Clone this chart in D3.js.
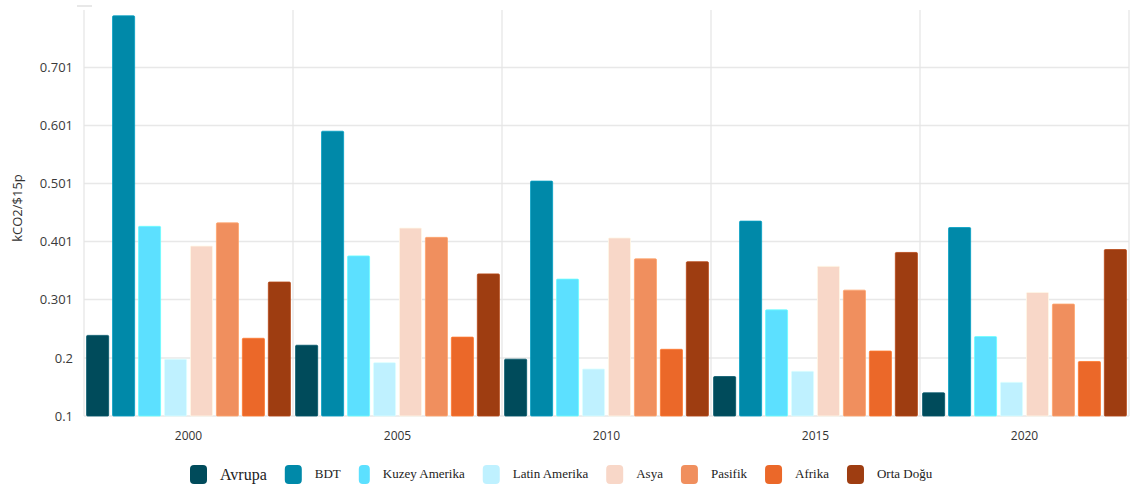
<!DOCTYPE html>
<html>
<head>
<meta charset="utf-8">
<script src="https://cdn.jsdelivr.net/npm/d3@7"></script>
<style>
  body { margin: 0; background: #fff; }
  svg { display: block; }
</style>
</head>
<body>
<div id="chart"></div>
<script>
var years = ["2000", "2005", "2010", "2015", "2020"];
var regions = ["Avrupa", "BDT", "Kuzey Amerika", "Latin Amerika", "Asya", "Pasifik", "Afrika", "Orta Doğu"];
var colors = ["#004b5b", "#0089a9", "#5ce0ff", "#bff1ff", "#f8d7c8", "#f08f5e", "#eb6829", "#9e3d11"];

// one array per region, values in order of years
var avrupa   = [0.239, 0.222, 0.198, 0.168, 0.140];
var bdt      = [0.790, 0.591, 0.505, 0.436, 0.425];
var kuzey    = [0.427, 0.376, 0.336, 0.283, 0.237];
var latin    = [0.198, 0.192, 0.181, 0.177, 0.158];
var asya     = [0.393, 0.424, 0.407, 0.358, 0.313];
var pasifik  = [0.433, 0.408, 0.371, 0.317, 0.293];
var afrika   = [0.234, 0.236, 0.215, 0.212, 0.194];
var ortaDogu = [0.331, 0.345, 0.366, 0.382, 0.387];

var yTicks = [0.1, 0.2, 0.301, 0.401, 0.501, 0.601, 0.701];
var yTickLabels = ["0.1", "0.2", "0.301", "0.401", "0.501", "0.601", "0.701"];
var yTitle = "kCO2/$15p";

var series = [avrupa, bdt, kuzey, latin, asya, pasifik, afrika, ortaDogu];

var width = 1138, height = 488,
    margin = {top: 10, right: 9, bottom: 72, left: 84};

var svg = d3.select("#chart").append("svg")
    .attr("width", width)
    .attr("height", height);

var x0 = d3.scaleBand().domain(years).range([margin.left, width - margin.right]).padding(0),
    x1 = d3.scaleBand().domain(regions).range([0, x0.bandwidth()]).paddingInner(0.15).paddingOuter(0.1),
    y = d3.scaleLinear().domain([0.1, 0.8]).range([height - margin.bottom, margin.top]);

// grid
var grid = svg.append("g").attr("class", "grid");
grid.selectAll("line.h")
  .data(yTicks)
  .enter().append("line")
    .attr("class", "h")
    .attr("x1", margin.left).attr("x2", width - margin.right)
    .attr("y1", function(d) { return y(d); })
    .attr("y2", function(d) { return y(d); })
    .attr("stroke", "#e8e8e8").attr("stroke-width", 1.5);

var bounds = years.map(function(d) { return x0(d); }).concat([x0(years[years.length - 1]) + x0.bandwidth()]);
grid.selectAll("line.v")
  .data(bounds)
  .enter().append("line")
    .attr("class", "v")
    .attr("x1", function(d) { return d; }).attr("x2", function(d) { return d; })
    .attr("y1", margin.top).attr("y2", y(0.1))
    .attr("stroke", "#e4e4e4").attr("stroke-width", 1.2);

svg.append("line")
  .attr("x1", margin.left - 7).attr("x2", margin.left + 8)
  .attr("y1", 6).attr("y2", 6)
  .attr("stroke", "#e0e0e0").attr("stroke-width", 1.5);

// bars
var group = svg.selectAll(".year")
  .data(years)
  .enter().append("g")
    .attr("class", "year")
    .attr("transform", function(d) { return "translate(" + x0(d) + ",0)"; });

group.selectAll("rect")
  .data(function(d, i) {
    return regions.map(function(r, j) { return {region: r, value: series[j][i], color: colors[j]}; });
  })
  .enter().append("rect")
    .attr("x", function(d) { return x1(d.region); })
    .attr("y", function(d) { return y(d.value); })
    .attr("width", x1.bandwidth())
    .attr("height", function(d) { return y(0.1) - y(d.value); })
    .attr("rx", 1)
    .attr("fill", function(d) { return d.color; })
    .attr("stroke", function(d) { return d3.color(d.color).brighter(0.4); })
    .attr("stroke-width", 0.8);

// y axis labels
var yAxis = d3.axisLeft(y)
  .tickValues(yTicks)
  .tickFormat(function(d, i) { return yTickLabels[i]; })
  .tickSize(0)
  .tickPadding(11);

svg.append("g")
    .attr("class", "axis axis--y")
    .attr("transform", "translate(" + margin.left + ",0)")
    .call(yAxis)
    .call(function(g) { g.select(".domain").remove(); })
    .selectAll("text")
    .style("font-family", "'Open Sans', sans-serif")
    .style("font-size", "13px")
    .attr("fill", "#3a3a3a");

svg.append("text")
    .attr("transform", "translate(22," + 208 + ") rotate(-90)")
    .attr("text-anchor", "middle")
    .style("font-family", "'Open Sans', sans-serif")
    .style("font-size", "13px")
    .attr("fill", "#333")
    .text(yTitle);

// x axis labels
var xAxis = d3.axisBottom(x0).tickSize(0).tickPadding(15);
svg.append("g")
    .attr("class", "axis axis--x")
    .attr("transform", "translate(0," + y(0.1) + ")")
    .call(xAxis)
    .call(function(g) { g.select(".domain").remove(); })
    .selectAll("text")
    .style("font-family", "'Open Sans', sans-serif")
    .style("font-size", "12px")
    .attr("fill", "#333");

// legend
var legend = svg.append("g").attr("class", "legend").attr("transform", "translate(190,474)");
var lx = 0;
regions.forEach(function(r, i) {
  var item = legend.append("g").attr("transform", "translate(" + lx + ",0)");
  var big = i === 0;
  item.append("rect")
    .attr("x", 0).attr("y", -9)
    .attr("width", i === 2 ? 11 : 17).attr("height", 19)
    .attr("rx", 4)
    .attr("fill", colors[i]);
  var t = item.append("text")
    .attr("x", (i === 2 ? 11 : 17) + 13)
    .attr("y", big ? 6 : 4)
    .style("font-family", "'Liberation Serif', 'Times New Roman', serif")
    .style("font-size", big ? "16px" : "13px")
    .attr("fill", "#222")
    .text(r);
  lx += (i === 2 ? 11 : 17) + 13 + t.node().getComputedTextLength() + 18;
});
</script>
</body>
</html>
